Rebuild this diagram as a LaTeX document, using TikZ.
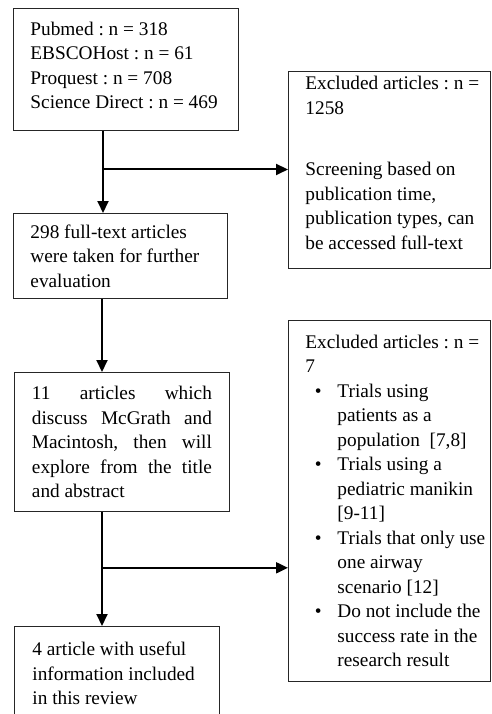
\documentclass[tikz,border=0pt]{standalone}
\usepackage{fontspec}
\setmainfont{Liberation Serif}
\usetikzlibrary{arrows.meta, calc}
\frenchspacing
\tikzstyle{line} = [draw, line width=2pt, -{Triangle[length=12pt,width=11pt]}]
\tikzstyle{box} = [draw=black!85, line width=0.9pt, anchor=north west, align=flush left,
                   inner xsep=17pt, inner ysep=0pt, font=\fontsize{19.3}{24.5}\selectfont]
\tikzstyle{exbox} = [box, inner xsep=2pt, text width=198pt,
                     execute at begin node={\leftskip=15pt}]
\newcommand{\bul}{\makebox[32pt][l]{\hspace*{9.5pt}\textbullet}}
\newcommand{\ind}{\hspace*{32pt}}
\newcommand{\jline}[1]{\makebox[\hsize][s]{#1}}
\newcommand{\pushup}[1]{\rule[-#1]{0pt}{#1}}

\begin{document}
\begin{tikzpicture}[x=1pt,y=-1pt]
\useasboundingbox (0,0) rectangle (491,714);
\clip (0,0) rectangle (491,714);

% Boxes on the left
\node[box, text width=191pt, minimum height=122pt] (src) at (13,8)
    {Pubmed : n = 318\\ EBSCOHost : n = 61\\ Proquest : n = 708\\
     Science Direct : n = 469\pushup{8pt}};
\node[box, text width=180pt, minimum height=85pt] (full) at (13,213)
    {298 full-text articles\\ were taken for further\\ evaluation};
\node[box, inner xsep=17.5pt, text width=180pt, minimum height=139pt] (abstr) at (14,372)
    {\jline{11 articles which}\\ \jline{discuss McGrath and}\\
     \jline{Macintosh, then will}\\ \jline{explore from the title}\\ and abstract};
\node[box, inner xsep=18pt, text width=169pt, minimum height=100pt] (incl) at (14,626)
    {4 article with useful\\ information included\\ in this review\pushup{6pt}};

% Boxes on the right
\node[exbox, minimum height=197pt] (exc1) at (288,71)
    {Excluded articles : n =\\ 1258\\[37pt] Screening based on\\ publication time,\\
     publication types, can\\ be accessed full-text\pushup{14pt}};
\node[exbox, minimum height=361pt] (exc2) at (288,320)
    {Excluded articles : n =\\ 7\\
     \bul Trials using\\ \ind patients as a\\ \ind population\ \ [7,8]\\
     \bul Trials using a\\ \ind pediatric manikin\\ \ind [9-11]\\
     \bul Trials that only use\\ \ind one airway\\ \ind scenario [12]\\
     \bul Do not include the\\ \ind success rate in the\\ \ind research result};

% Spines of the vertical arrows
\coordinate (sp1) at (103,0);
\coordinate (sp2) at (102,0);

% Draw vertical arrows
\foreach \a/\b/\s in {src/full/sp1, full/abstr/sp2, abstr/incl/sp2}
    \draw[line] (\a.south -| \s) -- (\b.north -| \s);

% Draw branches to the excluded boxes
\foreach \a/\b/\c/\s/\f in {src/full/exc1/sp1/0.47, abstr/incl/exc2/sp2/0.49}
    \draw[line] ($(\a.south -| \s)!\f!(\b.north -| \s)$) coordinate (m) -- (m -| \c.west);

\end{tikzpicture}
\end{document}
